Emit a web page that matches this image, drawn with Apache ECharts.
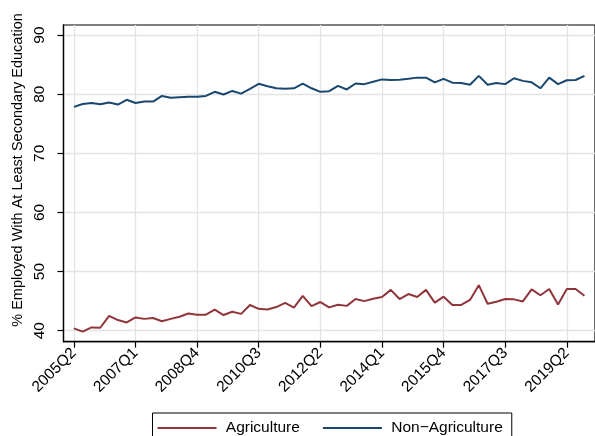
<!DOCTYPE html>
<html>
<head>
<meta charset="utf-8">
<script src="https://cdn.jsdelivr.net/npm/echarts@6/dist/echarts.min.js"></script>
<style>
  html, body { margin: 0; padding: 0; background: #fff; }
  #chart { width: 595px; height: 436px; }
</style>
</head>
<body>
<div id="chart"></div>
<script>
// quarters 2005Q2 .. 2019Q4
var quarters = []
for (var k = 0; k < 59; k++) {
  var n = 2005 * 4 + 1 + k
  quarters.push(Math.floor(n / 4) + 'Q' + (n % 4 + 1))
}
var xTicks = [0, 7, 14, 21, 28, 35, 42, 49, 56]
var yTicks = [40, 50, 60, 70, 80, 90]

// % employed with at least secondary education
var agriculture = [
  40.4, 39.85, 40.55, 40.5, 42.5, 41.8, 41.4, 42.25, 42.0, 42.15,
  41.6, 42.0, 42.35, 42.9, 42.7, 42.7, 43.55, 42.65, 43.2, 42.85,
  44.35, 43.7, 43.6, 44.0, 44.7, 43.9, 45.9, 44.15, 44.85, 43.95,
  44.4, 44.2, 45.35, 45.0, 45.4, 45.7, 46.9, 45.35, 46.2, 45.7,
  46.9, 44.75, 45.75, 44.35, 44.35, 45.2, 47.7, 44.55, 44.9, 45.35,
  45.3, 44.95, 47.0, 46.0, 47.05, 44.45, 47.05, 47.05, 45.9
]
var nonAgriculture = [
  77.85, 78.35, 78.5, 78.3, 78.6, 78.25, 79.05, 78.5, 78.75, 78.75,
  79.7, 79.4, 79.5, 79.55, 79.55, 79.7, 80.4, 79.95, 80.55, 80.1,
  80.9, 81.75, 81.35, 81.0, 80.9, 81.0, 81.8, 81.0, 80.4, 80.5,
  81.4, 80.8, 81.8, 81.7, 82.1, 82.5, 82.4, 82.45, 82.6, 82.8,
  82.8, 82.0, 82.6, 81.95, 81.9, 81.6, 83.1, 81.6, 81.9, 81.7,
  82.7, 82.25, 82.0, 81.0, 82.8, 81.7, 82.35, 82.4, 83.1
]

function pairs(arr) {
  return arr.map(function(v, i) { return [i, v] })
}

var font = 'Liberation Sans, Arial, sans-serif'
var chart = echarts.init(document.getElementById('chart'))
var option = {
  animation: false,
  backgroundColor: '#fff',
  textStyle: { fontFamily: font, color: '#000' },
  grid: {
    left: 63.5,
    top: 25,
    width: 537.5,
    height: 316.7,
    show: true,
    borderColor: '#000',
    borderWidth: 1.2,
    backgroundColor: '#fff'
  },
  legend: {
    left: 152.5,
    top: 413,
    icon: 'rect',
    itemWidth: 59,
    itemHeight: 2,
    itemGap: 23,
    padding: [7, 9, 7, 5],
    borderColor: '#000',
    borderWidth: 1,
    backgroundColor: '#fff',
    formatter: function(name) { return ' ' + name },
    textStyle: { fontSize: 15.5, color: '#000', fontFamily: font },
    data: ['Agriculture', 'Non\u2212Agriculture']
  },
  xAxis: {
    type: 'value',
    min: -1.18,
    max: 59.2,
    axisLine: { show: true, onZero: false, lineStyle: { color: '#000', width: 1.3 } },
    axisTick: { show: true, length: 6, customValues: xTicks, lineStyle: { color: '#000', width: 1.2 } },
    axisLabel: {
      customValues: xTicks,
      rotate: 45,
      margin: 9,
      fontSize: 15.5,
      color: '#000',
      formatter: function(v) { return quarters[v] }
    },
    splitLine: { show: true, lineStyle: { color: '#e3e3e3', width: 1.3 } }
  },
  yAxis: {
    type: 'value',
    min: 38.14,
    max: 91.7,
    axisLine: { show: true, onZero: false, lineStyle: { color: '#000', width: 1.3 } },
    axisTick: { show: true, length: 6, customValues: yTicks, lineStyle: { color: '#000', width: 1.2 } },
    axisLabel: { show: false, customValues: yTicks },
    splitLine: { show: true, lineStyle: { color: '#e3e3e3', width: 1.3 } }
  },
  series: [
    {
      name: 'Agriculture',
      type: 'line',
      symbol: 'none',
      color: '#90353b',
      lineStyle: { width: 2, color: '#90353b' },
      data: pairs(agriculture)
    },
    {
      name: 'Non\u2212Agriculture',
      type: 'line',
      symbol: 'none',
      color: '#1a476f',
      lineStyle: { width: 2, color: '#1a476f' },
      data: pairs(nonAgriculture)
    }
  ]
}
chart.setOption(option)

// vertical y tick labels and axis title, placed from the axis scale
var texts = [{
  type: 'text',
  x: 18,
  y: 170,
  rotation: Math.PI / 2,
  style: {
    text: '% Employed With At Least Secondary Education',
    fontSize: 14.5, fontFamily: font, fill: '#000',
    align: 'center', verticalAlign: 'middle'
  }
}]
yTicks.forEach(function(v) {
  var py = chart.convertToPixel({ yAxisIndex: 0 }, v)
  texts.push({
    type: 'text',
    x: 40,
    y: py,
    rotation: Math.PI / 2,
    style: {
      text: String(v),
      fontSize: 15.5, fontFamily: font, fill: '#000',
      align: 'center', verticalAlign: 'middle'
    }
  })
})
chart.setOption({ graphic: texts })
</script>
</body>
</html>
